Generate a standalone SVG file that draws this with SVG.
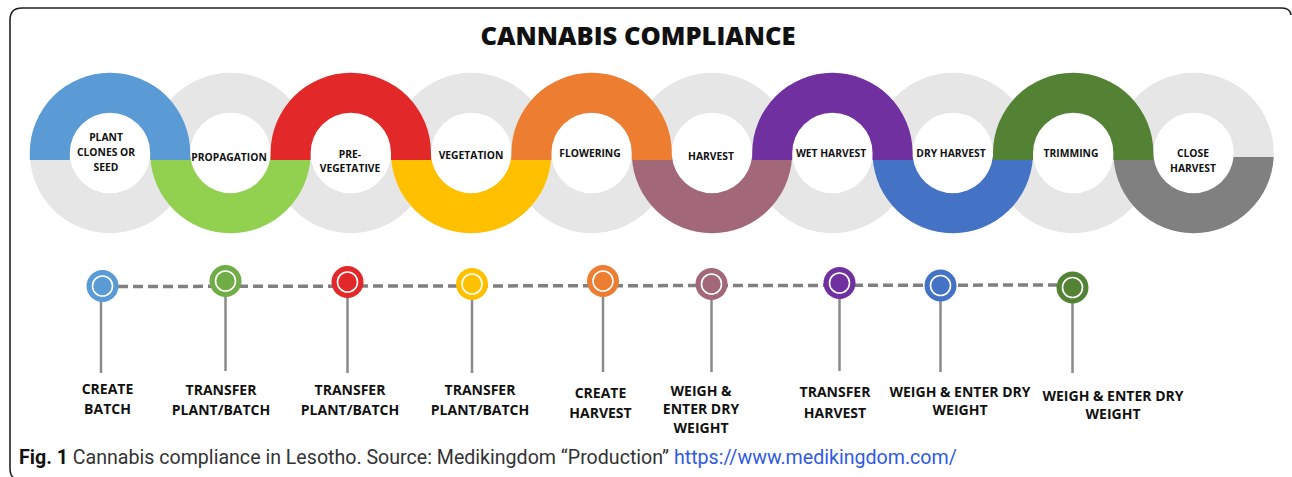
<svg xmlns="http://www.w3.org/2000/svg" xmlns:xlink="http://www.w3.org/1999/xlink" width="1292" height="477" viewBox="0 0 1292 477">
<style>
.ring{fill:none;stroke:#e6e6e6;stroke-width:40}
.rt{font-family:"Open Sans","Liberation Sans",sans-serif;font-weight:700;font-size:10.3px;fill:#111;text-anchor:middle}
.lt{font-family:"Open Sans","Liberation Sans",sans-serif;font-weight:700;font-size:14px;fill:#111;text-anchor:middle}
.dot-in{fill:none;stroke:#fff;stroke-width:1.6}
.stem{stroke:#8a8a8a;stroke-width:2.5}
.dash{stroke:#808080;stroke-width:3.5;stroke-dasharray:10 5;fill:none}
</style>
<defs>
<path id="topArc" d="M-80.2,7 L-80.2,0 A80.2,80.2 0 0 1 80.2,0 L80.2,7 L40.2,7 L40.2,0 A40.2,40.2 0 0 0 -40.2,0 L-40.2,7 Z"/>
<path id="botArc" d="M-80.1,4 A80.2,80.2 0 0 0 80.1,4 L40,4 A40.2,40.2 0 0 1 -40,4 Z"/>
</defs>
<rect width="1292" height="477" fill="#fff"/>
<path d="M1291,15 Q1290,8 1282,8 L22,8 Q10,8 10,20 L10,468 Q10,476 14,478" fill="none" stroke="#222" stroke-width="1.6"/>
<text x="638" y="44.5" font-family="'Open Sans','Liberation Sans',sans-serif" font-weight="800" font-size="25.5" text-anchor="middle" fill="#111">CANNABIS COMPLIANCE</text>

<g id="rings-bg">
<circle class="ring" cx="110" cy="153" r="60.2"/>
<circle class="ring" cx="230.4" cy="153" r="60.2"/>
<circle class="ring" cx="350.8" cy="153" r="60.2"/>
<circle class="ring" cx="471.2" cy="153" r="60.2"/>
<circle class="ring" cx="591.6" cy="153" r="60.2"/>
<circle class="ring" cx="712" cy="153" r="60.2"/>
<circle class="ring" cx="832.4" cy="153" r="60.2"/>
<circle class="ring" cx="952.8" cy="153" r="60.2"/>
<circle class="ring" cx="1073.2" cy="153" r="60.2"/>
<circle class="ring" cx="1193.6" cy="153" r="60.2"/>
</g>

<g id="bottom-arcs">
<use xlink:href="#botArc" x="230.4" y="153" fill="#92d050"/>
<use xlink:href="#botArc" x="471.2" y="153" fill="#ffc000"/>
<use xlink:href="#botArc" x="712" y="153" fill="#a26878"/>
<use xlink:href="#botArc" x="952.8" y="153" fill="#4472c4"/>
<use xlink:href="#botArc" x="1193.6" y="153" fill="#808080"/>
</g>
<g id="top-arcs">
<use xlink:href="#topArc" x="110" y="153" fill="#5b9bd5"/>
<use xlink:href="#topArc" x="350.8" y="153" fill="#e3282a"/>
<use xlink:href="#topArc" x="591.6" y="153" fill="#ed7d31"/>
<use xlink:href="#topArc" x="832.4" y="153" fill="#7030a0"/>
<use xlink:href="#topArc" x="1073.2" y="153" fill="#548235"/>
</g>

<g id="stage-plant"><text class="rt" x="106" y="141">PLANT</text><text class="rt" x="106" y="156">CLONES OR</text><text class="rt" x="106" y="171">SEED</text></g>
<g id="stage-propagation"><text class="rt" x="229" y="161">PROPAGATION</text></g>
<g id="stage-preveg"><text class="rt" x="350" y="157.5">PRE-</text><text class="rt" x="350" y="172">VEGETATIVE</text></g>
<g id="stage-vegetation"><text class="rt" x="471" y="159">VEGETATION</text></g>
<g id="stage-flowering"><text class="rt" x="590" y="157">FLOWERING</text></g>
<g id="stage-harvest"><text class="rt" x="711" y="160">HARVEST</text></g>
<g id="stage-wet"><text class="rt" x="831" y="157">WET HARVEST</text></g>
<g id="stage-dry"><text class="rt" x="951" y="157">DRY HARVEST</text></g>
<g id="stage-trimming"><text class="rt" x="1071" y="157">TRIMMING</text></g>
<g id="stage-close"><text class="rt" x="1193" y="157">CLOSE</text><text class="rt" x="1193" y="172">HARVEST</text></g>

<g id="connectors">
<line class="dash" x1="118" y1="286.5" x2="1057" y2="285"/>
<line class="stem" x1="101" y1="300" x2="101" y2="373"/>
<line class="stem" x1="225.5" y1="295" x2="225.5" y2="371"/>
<line class="stem" x1="347.5" y1="296" x2="347.5" y2="373"/>
<line class="stem" x1="472" y1="298" x2="472" y2="373"/>
<line class="stem" x1="603" y1="295" x2="603" y2="372"/>
<line class="stem" x1="711.5" y1="298" x2="711.5" y2="372"/>
<line class="stem" x1="839.5" y1="297" x2="839.5" y2="371"/>
<line class="stem" x1="940.5" y1="300" x2="940.5" y2="372"/>
<line class="stem" x1="1072.5" y1="302" x2="1072.5" y2="373"/>
</g>

<g id="m1"><circle cx="102.5" cy="286" r="16" fill="#5b9bd5"/><circle class="dot-in" cx="102.5" cy="286" r="10"/><text class="lt" x="107.5" y="394">CREATE</text><text class="lt" x="107.5" y="414">BATCH</text></g>
<g id="m2"><circle cx="225.5" cy="281" r="16" fill="#70ad47"/><circle class="dot-in" cx="225.5" cy="281" r="10"/><text class="lt" x="221" y="395">TRANSFER</text><text class="lt" x="221" y="415">PLANT/BATCH</text></g>
<g id="m3"><circle cx="347.5" cy="282" r="16" fill="#e3282a"/><circle class="dot-in" cx="347.5" cy="282" r="10"/><text class="lt" x="350" y="395">TRANSFER</text><text class="lt" x="350" y="415">PLANT/BATCH</text></g>
<g id="m4"><circle cx="472" cy="284" r="16" fill="#ffc000"/><circle class="dot-in" cx="472" cy="284" r="10"/><text class="lt" x="480" y="395">TRANSFER</text><text class="lt" x="480" y="415">PLANT/BATCH</text></g>
<g id="m5"><circle cx="603" cy="281" r="16" fill="#ed7d31"/><circle class="dot-in" cx="603" cy="281" r="10"/><text class="lt" x="600.5" y="398">CREATE</text><text class="lt" x="600.5" y="418">HARVEST</text></g>
<g id="m6"><circle cx="711.5" cy="284" r="16" fill="#a26878"/><circle class="dot-in" cx="711.5" cy="284" r="10"/><text class="lt" x="701" y="396">WEIGH &amp;</text><text class="lt" x="701" y="414">ENTER DRY</text><text class="lt" x="701" y="433">WEIGHT</text></g>
<g id="m7"><circle cx="839.5" cy="283" r="16" fill="#7030a0"/><circle class="dot-in" cx="839.5" cy="283" r="10"/><text class="lt" x="835" y="397">TRANSFER</text><text class="lt" x="835" y="418">HARVEST</text></g>
<g id="m8"><circle cx="940.5" cy="285.5" r="16" fill="#4472c4"/><circle class="dot-in" cx="940.5" cy="285.5" r="10"/><text class="lt" x="960" y="397">WEIGH &amp; ENTER DRY</text><text class="lt" x="960" y="415">WEIGHT</text></g>
<g id="m9"><circle cx="1072.5" cy="287.5" r="16" fill="#548235"/><circle class="dot-in" cx="1072.5" cy="287.5" r="10"/><text class="lt" x="1113" y="400.5">WEIGH &amp; ENTER DRY</text><text class="lt" x="1113" y="419">WEIGHT</text></g>

<text x="19" y="464" font-family="Roboto,'Open Sans',sans-serif" font-size="19.6" fill="#333"><tspan font-weight="700" fill="#111">Fig. 1</tspan> Cannabis compliance in Lesotho. Source: Medikingdom “Production” <tspan fill="#2f5ae6">https://www.medikingdom.com/</tspan></text>
</svg>
